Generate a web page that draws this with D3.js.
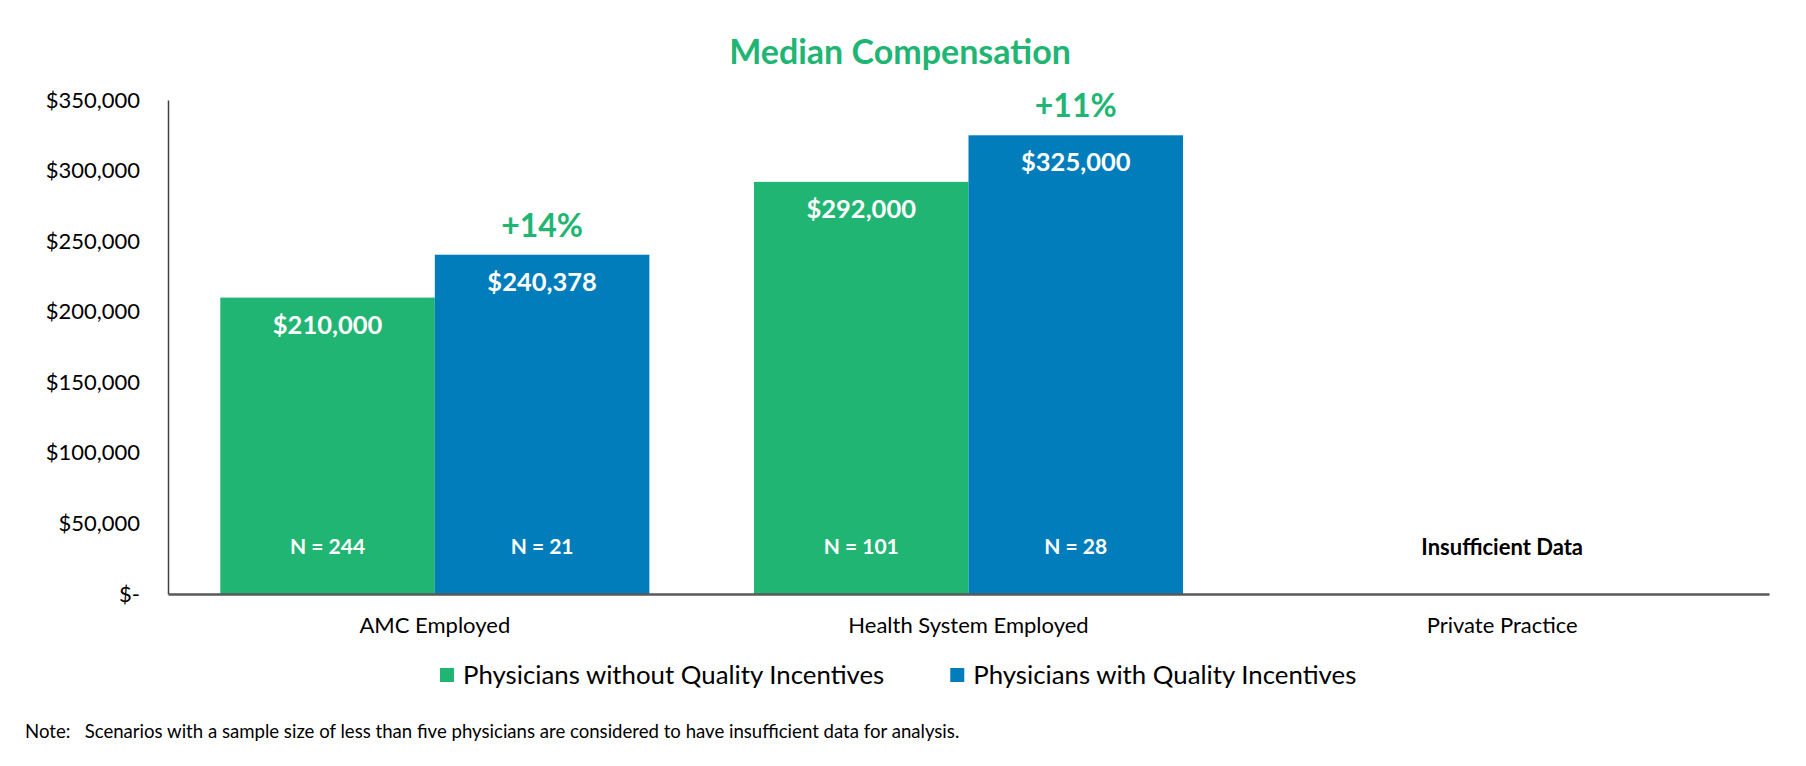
<!DOCTYPE html>
<html><head><meta charset="utf-8">
<script src="https://cdn.jsdelivr.net/npm/d3@7"></script>
<style>
body{margin:0;background:#fff}
text{font-family:Lato,"Open Sans",sans-serif}
</style>
</head><body>
<svg id="chart" width="1806" height="766"></svg>
<script>
const title = "Median Compensation";
const categories = ["AMC Employed", "Health System Employed", "Private Practice"];
const seriesNames = ["Physicians without Quality Incentives", "Physicians with Quality Incentives"];
const withoutValues = [210000, 292000, null];
const withValues = [240378, 325000, null];
const withoutN = [244, 101, null];
const withN = [21, 28, null];
const changeLabels = ["+14%", "+11%", null];
const yTicks = [0, 50000, 100000, 150000, 200000, 250000, 300000, 350000];
const insufficientLabel = "Insufficient Data";
const noteText = "Note:\u00a0\u00a0 Scenarios with a sample size of less than five physicians are considered to have insufficient data for analysis.";

const GREEN = "#21B573", BLUE = "#017DBC";
const colors = [GREEN, BLUE];

const svg = d3.select("#chart");
const mLeft = 168, mRight = 1769, mTop = 100, mBottom = 594;

const x0 = d3.scaleBand().domain(categories).range([mLeft, mRight]).paddingInner(0.196).paddingOuter(0.098);
const x1 = d3.scaleBand().domain([0, 1]).range([0, x0.bandwidth()]);
const y = d3.scaleLinear().domain([0, 350000]).range([mBottom, mTop]);

// title
svg.append("text").attr("x", 900).attr("y", 52).attr("dy", "0.35em")
  .attr("text-anchor", "middle").attr("font-size", 34).attr("font-weight", 700)
  .attr("fill", GREEN).text(title);

// bars
const rows = categories.map((c, i) => ({cat: c, vals: [withoutValues[i], withValues[i]], ns: [withoutN[i], withN[i]], change: changeLabels[i]}));
const g = svg.append("g");
rows.forEach(r => {
  r.vals.forEach((v, j) => {
    if (v == null) return;
    const bx = x0(r.cat) + x1(j);
    g.append("rect").attr("x", bx).attr("y", y(v)).attr("width", x1.bandwidth())
      .attr("height", y(0) - y(v)).attr("fill", colors[j]);
    g.append("text").attr("x", bx + x1.bandwidth() / 2).attr("y", y(v) + 27).attr("dy", "0.35em")
      .attr("text-anchor", "middle").attr("font-size", 25.5).attr("font-weight", 700).attr("fill", "#fff")
      .text("$" + d3.format(",")(v));
    g.append("text").attr("x", bx + x1.bandwidth() / 2).attr("y", y(0) - 47).attr("dy", "0.35em")
      .attr("text-anchor", "middle").attr("font-size", 21).attr("font-weight", 700).attr("fill", "#fff")
      .text("N = " + r.ns[j]);
  });
  if (r.change) {
    const bx = x0(r.cat) + x1(1);
    g.append("text").attr("x", bx + x1.bandwidth() / 2).attr("y", y(r.vals[1]) - 29).attr("dy", "0.35em")
      .attr("text-anchor", "middle").attr("font-size", 32).attr("font-weight", 700).attr("fill", GREEN)
      .text(r.change);
  }
  if (r.vals.every(v => v == null)) {
    g.append("text").attr("x", x0(r.cat) + x0.bandwidth() / 2).attr("y", y(0) - 47).attr("dy", "0.35em")
      .attr("text-anchor", "middle").attr("font-size", 22).attr("font-weight", 700).attr("fill", "#000")
      .text(insufficientLabel);
  }
});

// y axis
const yAxis = svg.append("g").attr("transform", `translate(${mLeft},0)`)
  .call(d3.axisLeft(y).tickValues(yTicks).tickSize(0).tickSizeOuter(0).tickPadding(28)
    .tickFormat(d => d === 0 ? "$-" : "$" + d3.format(",")(d)));
yAxis.select(".domain").attr("stroke", "#404040").attr("stroke-width", 1.5);
yAxis.selectAll("text").attr("font-size", 22).attr("fill", "#000").attr("font-family", "Lato");

// x axis
const xAxis = svg.append("g").attr("transform", `translate(0,${mBottom})`)
  .call(d3.axisBottom(x0).tickSize(0).tickSizeOuter(0).tickPadding(23));
xAxis.select(".domain").attr("stroke", "#595959").attr("stroke-width", 2.5);
xAxis.selectAll("text").attr("font-size", 22).attr("fill", "#000").attr("font-family", "Lato");

// legend
const lg = svg.append("g");
let lx = 440;
seriesNames.forEach((s, j) => {
  lg.append("rect").attr("x", lx).attr("y", 668).attr("width", 14).attr("height", 14).attr("fill", colors[j]);
  const t = lg.append("text").attr("x", lx + 23).attr("y", 675).attr("dy", "0.35em")
    .attr("font-size", 25.8).attr("fill", "#000").text(s);
  lx = lx + 23 + t.node().getComputedTextLength() + 66;
});

// note
svg.append("text").attr("x", 25).attr("y", 731).attr("dy", "0.35em")
  .attr("font-size", 18.6).attr("fill", "#000").text(noteText);
</script>
</body></html>
